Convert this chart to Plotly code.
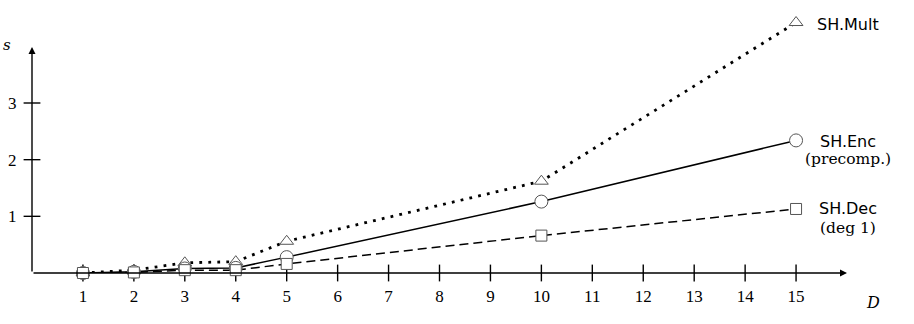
import plotly.graph_objects as go

D = [1, 2, 3, 4, 5, 10, 15]
sh_mult = [0.0, 0.05, 0.18, 0.2, 0.56, 1.62, 4.42]
sh_enc = [0.0, 0.02, 0.08, 0.09, 0.28, 1.26, 2.34]
sh_dec = [0.0, 0.01, 0.05, 0.05, 0.16, 0.66, 1.13]
x_ticks = list(range(1, 16))
y_ticks = [1, 2, 3]

X_MAX = 16
Y_ARROW = 3.99

fig = go.Figure()

marker_line = dict(color="#555555", width=1)

fig.add_trace(go.Scatter(x=D, y=sh_mult, mode="lines",
                         line=dict(color="black", width=2.8, dash="2.8px,6.2px"),
                         cliponaxis=False, showlegend=False))
fig.add_trace(go.Scatter(x=D, y=sh_enc, mode="lines",
                         line=dict(color="black", width=1.5),
                         cliponaxis=False, showlegend=False))
fig.add_trace(go.Scatter(x=D, y=sh_dec, mode="lines",
                         line=dict(color="black", width=1.5, dash="9px,5px"),
                         cliponaxis=False, showlegend=False))

# tick marks crossing the axes
fig.add_trace(go.Scatter(x=x_ticks, y=[0] * len(x_ticks), mode="markers",
                         marker=dict(symbol="line-ns", size=12,
                                     line=dict(color="black", width=1.4)),
                         cliponaxis=False, showlegend=False, hoverinfo="skip"))
fig.add_trace(go.Scatter(x=[0] * len(y_ticks), y=y_ticks, mode="markers",
                         marker=dict(symbol="line-ew", size=12,
                                     line=dict(color="black", width=1.4)),
                         cliponaxis=False, showlegend=False, hoverinfo="skip"))

fig.add_trace(go.Scatter(x=D, y=sh_mult, mode="markers",
                         marker=dict(symbol="triangle-up", size=12, color="white", line=marker_line),
                         cliponaxis=False, showlegend=False))
fig.add_trace(go.Scatter(x=D, y=sh_enc, mode="markers",
                         marker=dict(symbol="circle", size=13, color="white", line=marker_line),
                         cliponaxis=False, showlegend=False))
fig.add_trace(go.Scatter(x=D, y=sh_dec, mode="markers",
                         marker=dict(symbol="square", size=11, color="white", line=marker_line),
                         cliponaxis=False, showlegend=False))

LX = D[-1]          # series labels anchored on the last point
LXS = 52            # one x unit further right, in px

annotations = [
    # axis arrows
    dict(x=X_MAX, y=0, ax=0, ay=0, xref="x", yref="y", axref="x", ayref="y",
         text="", showarrow=True, arrowhead=2, arrowsize=1, arrowwidth=1.4,
         arrowcolor="black", standoff=0, startstandoff=0),
    dict(x=0, y=Y_ARROW, ax=0, ay=0, xref="x", yref="y", axref="x", ayref="y",
         text="", showarrow=True, arrowhead=2, arrowsize=1, arrowwidth=1.4,
         arrowcolor="black", standoff=0, startstandoff=0),
    # axis labels
    dict(x=0, y=Y_ARROW, xref="x", yref="y", text="<i>s</i>", showarrow=False,
         xshift=-25.5, yshift=2,
         font=dict(family="DejaVu Serif", size=15, color="black")),
    dict(x=LX, y=0, xref="x", yref="y", text="<i>D</i>", showarrow=False,
         xshift=77, yshift=-29,
         font=dict(family="DejaVu Serif", size=16, color="black")),
    # series labels
    dict(x=LX, y=sh_mult[-1], xref="x", yref="y", text="SH.Mult", showarrow=False,
         xshift=LXS, yshift=-2,
         font=dict(family="DejaVu Sans", size=16, color="black")),
    dict(x=LX, y=sh_enc[-1], xref="x", yref="y", text="SH.Enc", showarrow=False,
         xshift=LXS, yshift=-1,
         font=dict(family="DejaVu Sans", size=16, color="black")),
    dict(x=LX, y=sh_enc[-1], xref="x", yref="y", text="(precomp.)", showarrow=False,
         xshift=LXS, yshift=-19,
         font=dict(family="DejaVu Serif", size=15.5, color="black")),
    dict(x=LX, y=sh_dec[-1], xref="x", yref="y", text="SH.Dec", showarrow=False,
         xshift=LXS, yshift=0,
         font=dict(family="DejaVu Sans", size=16, color="black")),
    dict(x=LX, y=sh_dec[-1], xref="x", yref="y", text="(deg 1)", showarrow=False,
         xshift=LXS, yshift=-19,
         font=dict(family="DejaVu Serif", size=15.5, color="black")),
]

fig.update_layout(
    width=914, height=324,
    margin=dict(l=31.5, r=67, t=1, b=51),
    paper_bgcolor="white", plot_bgcolor="white",
    showlegend=False,
    annotations=annotations,
    xaxis=dict(range=[0, X_MAX], tickvals=x_ticks, ticktext=[str(v) for v in x_ticks],
               showgrid=False, zeroline=False, showline=False,
               ticks="outside", ticklen=8, tickcolor="rgba(0,0,0,0)",
               tickfont=dict(family="Liberation Serif", size=17, color="black")),
    yaxis=dict(range=[0, 4.8], tickvals=y_ticks, ticktext=[str(v) for v in y_ticks],
               showgrid=False, zeroline=False, showline=False,
               ticks="outside", ticklen=11, tickcolor="rgba(0,0,0,0)",
               tickfont=dict(family="Liberation Serif", size=17, color="black")),
)

fig.write_html("out.html")
